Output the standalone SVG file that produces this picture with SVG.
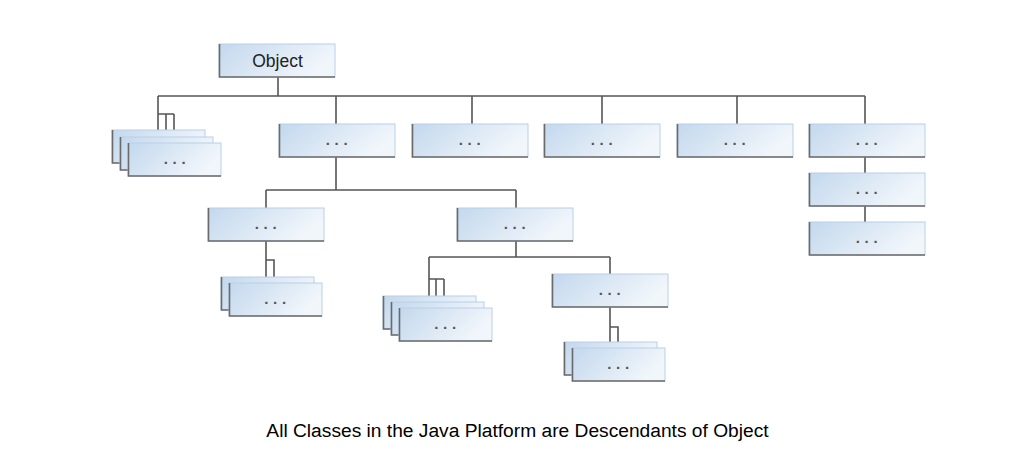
<svg xmlns="http://www.w3.org/2000/svg" width="1020" height="458" viewBox="0 0 1020 458">
<defs>
<linearGradient id="g" x1="0" y1="0" x2="1" y2="0.35">
<stop offset="0" stop-color="#c3d8ed"/>
<stop offset="1" stop-color="#f1f6fb"/>
</linearGradient>
<style>
.bx{fill:url(#g);stroke:#b9d0e8;stroke-width:1}
.sh{fill:none;stroke:#6b6b6b;stroke-width:1.6}
.ln{fill:none;stroke:#555;stroke-width:1.6}
.dt{font-family:"Liberation Sans",Arial,sans-serif;font-size:15px;font-weight:bold;letter-spacing:4.6px;fill:#555;text-anchor:middle}
.lb{font-family:"Liberation Sans",Arial,sans-serif;font-size:17.5px;fill:#222;text-anchor:middle}
.cap{font-family:"Liberation Sans",Arial,sans-serif;font-size:19.2px;fill:#000;text-anchor:middle}
</style>
</defs>
<rect width="1020" height="458" fill="#fff"/>
<g id="connectors">
<path class="ln" d="M278,77V96M158,96H865M336,96V124M472,96V124M602,96V124M737,96V124M865,96V124M865,157V173M865,206V222"/>
<path class="ln" d="M158,96V130M158,114H174M166,114V137M174,114V143"/>
<path class="ln" d="M336,157V190M266,190H516M266,190V208M516,190V208"/>
<path class="ln" d="M266,241V277M266,260H274V283"/>
<path class="ln" d="M516,241V257M429,257H610M429,257V296M429,279H444M436,279V302M444,279V308M610,257V274"/>
<path class="ln" d="M610,307V342M610,327H618V348"/>
</g>
<g id="object">
<rect class="bx" x="219" y="44" width="116" height="33"/><path class="sh" d="M219.5,44V77H335"/>
<text class="lb" x="277.5" y="67">Object</text>
</g>
<g id="n1">
<rect class="bx" x="112" y="130" width="93" height="33"/><path class="sh" d="M112.5,130V163H205"/>
<rect class="bx" x="120" y="137" width="93" height="33"/><path class="sh" d="M120.5,137V170H213"/>
<rect class="bx" x="128" y="143" width="93" height="33"/><path class="sh" d="M128.5,143V176H221"/>
<text class="dt" x="177" y="164">...</text>
</g>
<g id="n2">
<rect class="bx" x="279" y="124" width="116" height="33"/><path class="sh" d="M279.5,124V157H395"/>
<text class="dt" x="339" y="145">...</text>
</g>
<g id="n3">
<rect class="bx" x="412" y="124" width="116" height="33"/><path class="sh" d="M412.5,124V157H528"/>
<text class="dt" x="472" y="145">...</text>
</g>
<g id="n4">
<rect class="bx" x="544" y="124" width="116" height="33"/><path class="sh" d="M544.5,124V157H660"/>
<text class="dt" x="604" y="145">...</text>
</g>
<g id="n5">
<rect class="bx" x="677" y="124" width="116" height="33"/><path class="sh" d="M677.5,124V157H793"/>
<text class="dt" x="737" y="145">...</text>
</g>
<g id="n6">
<rect class="bx" x="809" y="124" width="116" height="33"/><path class="sh" d="M809.5,124V157H925"/>
<text class="dt" x="869" y="145">...</text>
</g>
<g id="n10">
<rect class="bx" x="809" y="173" width="116" height="33"/><path class="sh" d="M809.5,173V206H925"/>
<text class="dt" x="869" y="194">...</text>
</g>
<g id="n11">
<rect class="bx" x="809" y="222" width="116" height="33"/><path class="sh" d="M809.5,222V255H925"/>
<text class="dt" x="869" y="243">...</text>
</g>
<g id="n7">
<rect class="bx" x="208" y="208" width="116" height="33"/><path class="sh" d="M208.5,208V241H324"/>
<text class="dt" x="268" y="229">...</text>
</g>
<g id="n8">
<rect class="bx" x="457" y="208" width="116" height="33"/><path class="sh" d="M457.5,208V241H573"/>
<text class="dt" x="517" y="229">...</text>
</g>
<g id="n9">
<rect class="bx" x="552" y="274" width="116" height="33"/><path class="sh" d="M552.5,274V307H668"/>
<text class="dt" x="612" y="295">...</text>
</g>
<g id="n12">
<rect class="bx" x="221" y="277" width="93" height="33"/><path class="sh" d="M221.5,277V310H314"/>
<rect class="bx" x="229" y="283" width="93" height="33"/><path class="sh" d="M229.5,283V316H322"/>
<text class="dt" x="277.5" y="304">...</text>
</g>
<g id="n13">
<rect class="bx" x="383" y="296" width="93" height="33"/><path class="sh" d="M383.5,296V329H476"/>
<rect class="bx" x="391" y="302" width="93" height="33"/><path class="sh" d="M391.5,302V335H484"/>
<rect class="bx" x="399" y="308" width="93" height="33"/><path class="sh" d="M399.5,308V341H492"/>
<text class="dt" x="447.5" y="329">...</text>
</g>
<g id="n14">
<rect class="bx" x="564" y="342" width="93" height="33"/><path class="sh" d="M564.5,342V375H657"/>
<rect class="bx" x="572" y="348" width="93" height="33"/><path class="sh" d="M572.5,348V381H665"/>
<text class="dt" x="620.5" y="369">...</text>
</g>
<text class="cap" x="517.5" y="437">All Classes in the Java Platform are Descendants of Object</text>
</svg>
